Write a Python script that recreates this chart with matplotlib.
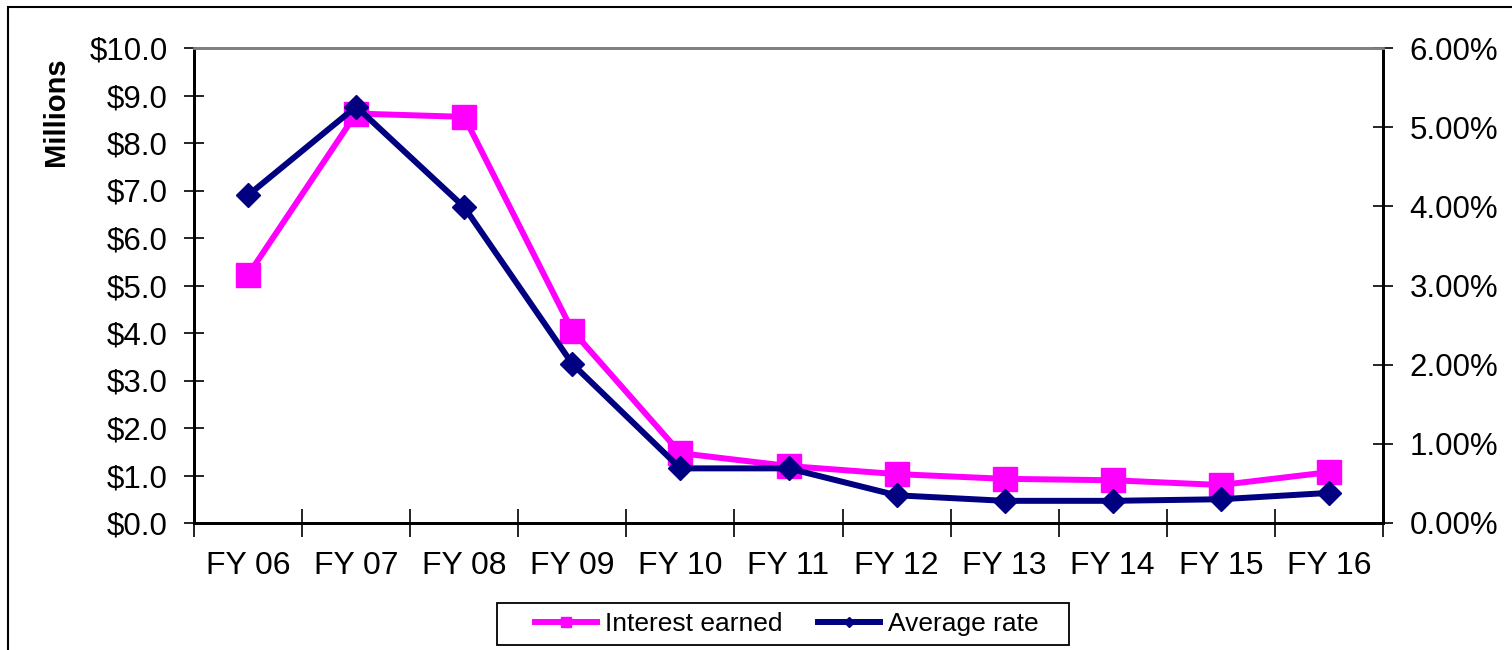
import matplotlib.pyplot as plt
from matplotlib.patches import Rectangle
from matplotlib.ticker import FuncFormatter

years = ["FY 06", "FY 07", "FY 08", "FY 09", "FY 10", "FY 11",
         "FY 12", "FY 13", "FY 14", "FY 15", "FY 16"]
interest_earned = [5.22, 8.62, 8.55, 4.05, 1.47, 1.20, 1.03, 0.93, 0.90, 0.80, 1.07]
average_rate = [4.14, 5.26, 3.99, 2.01, 0.69, 0.69, 0.35, 0.28, 0.28, 0.30, 0.38]

pink = "#FF00FF"
navy = "#000080"

plt.rcParams["font.family"] = ["Liberation Sans", "DejaVu Sans"]
plt.rcParams["font.size"] = 22.5

W, H = 1512, 650
fig = plt.figure(figsize=(W / 100, H / 100), dpi=100)
ax = fig.add_axes([194 / W, 127 / H, 1189 / W, 475 / H])
ax2 = ax.twinx()

x = list(range(len(years)))
l1, = ax.plot(x, interest_earned, color=pink, lw=4.3, marker="s", ms=17,
              label="Interest earned", zorder=2)
l2, = ax2.plot(x, average_rate, color=navy, lw=4.3, marker="D", ms=12,
               label="Average rate", zorder=3)

ax.set_xlim(-0.5, len(years) - 0.5)
ax.set_ylim(0, 10)
ax2.set_ylim(0, 6)
ax.set_yticks(range(0, 11))
ax2.set_yticks(range(0, 7))
ax.yaxis.set_major_formatter(FuncFormatter(lambda v, p: f"${v:.1f}"))
ax2.yaxis.set_major_formatter(FuncFormatter(lambda v, p: f"{v:.2f}%"))

# category boundaries get the tick marks, centres get the labels
ax.set_xticks([i - 0.5 for i in range(len(years) + 1)])
ax.set_xticklabels([])
ax.set_xticks(x, minor=True)
ax.set_xticklabels(years, minor=True, fontsize=23)
ax.tick_params(axis="x", which="major", direction="inout", length=20, width=1.2)
ax.tick_params(axis="x", which="minor", length=0, pad=20)
ax.tick_params(axis="y", direction="inout", length=14, width=1.2, pad=12)
ax2.tick_params(axis="y", direction="inout", length=14, width=1.2, pad=12)

for a in (ax, ax2):
    a.spines["top"].set_color("#808080")
    a.spines["top"].set_linewidth(2)
    for s in ("left", "right", "bottom"):
        a.spines[s].set_linewidth(2)

ax.set_ylabel("Millions", fontweight="bold", fontsize=21)
ax.yaxis.set_label_coords(-0.104, 0.865)

leg = fig.legend([l1, l2], ["Interest earned", "Average rate"], loc="center",
                 bbox_to_anchor=(787 / W, 26 / H), ncol=2, frameon=False,
                 markerscale=0.45, handlelength=2.35, columnspacing=1.33,
                 handletextpad=0.3, fontsize=19)

# legend box is wider than the entries, so it is drawn separately
fig.patches.append(Rectangle((497 / W, 5 / H), 572 / W, 42 / H,
                             transform=fig.transFigure, fill=False,
                             edgecolor="black", lw=1.3))

# outer chart border
fig.patches.append(Rectangle((8 / W, -0.1), 1.2, 0.1 + 643 / H,
                             transform=fig.transFigure, fill=False,
                             edgecolor="black", lw=1.5))

fig.savefig("out.png", dpi=100)
